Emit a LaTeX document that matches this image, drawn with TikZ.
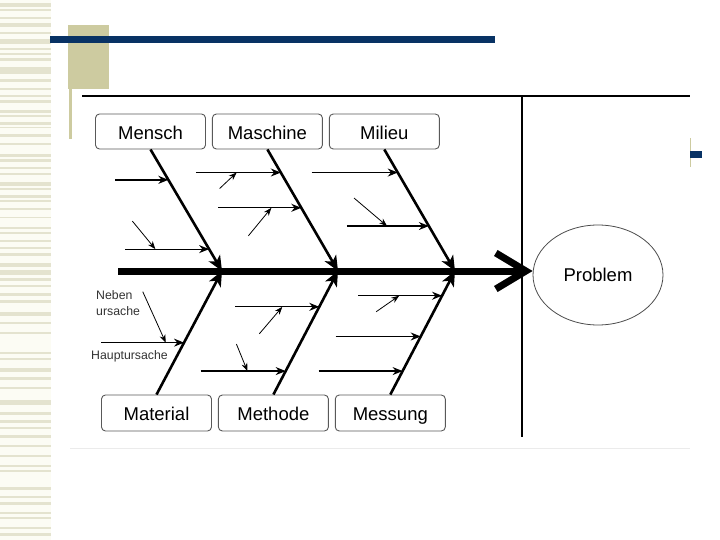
\documentclass[tikz,border=0pt]{standalone}
\usepackage{fontspec}
\setmainfont{Liberation Sans}
\usetikzlibrary{positioning,shapes.geometric,arrows.meta,calc}

\definecolor{navyA}{RGB}{8,50,100}
\definecolor{khakiA}{RGB}{205,203,160}
\definecolor{stripeA}{RGB}{228,227,207}
\definecolor{creamA}{RGB}{252,252,244}

\tikzset{
	catbox/.style={draw=black!65, line width=0.9pt, rounded corners=4pt, minimum width=110pt, minimum height=35pt, text height=18.5pt, text depth=3pt, font=\fontsize{18.5}{20}\selectfont},
	spine/.style={line width=7pt, -{Straight Barb[length=30pt,width=36pt]}},
	bone/.style={line width=2.6pt, -{Stealth[length=15pt,width=13pt,inset=4pt]}},
	cause/.style={line width=1.2pt, -{Stealth[length=10pt,width=8pt]}},
	subcause/.style={line width=0.8pt, -{Stealth[length=8pt,width=6pt]}},
	note/.style={font=\fontsize{12.3}{16}\selectfont, text=black!80, inner sep=0pt, anchor=west, align=left}
}

\begin{document}
\begin{tikzpicture}[x=1pt,y=-1pt]

	\useasboundingbox (0,0) rectangle (720,540);
	\fill[white] (0,0) rectangle (720,540);

	% slide background
	\fill[creamA] (0,0) rectangle (51,540);
	\foreach \y/\h in {3/4,9/2,17/2,23/4,32/2,39/5,48/2,53/2,58/3,67/7,79/3,88/2,95/2,100/3,110/3,115/2,122/3,127/1.5,134/3,143/2,154/3,159/3,167/2,173/2,182/4,188/2,195/3,200/2,208/2,217/1.5,227/2,232/1.5,240/2,247/2,253/3,263/4,270/5,278/3,285/2,293/3,300/3,312/4,322/1.5,332/1.5,352/2,358/2,368/4,377/3,387/2,400/5,412/3,420/3,427/2,435/3,445/2,455/1.5,465/2,470/2,487/3,496/2,502/3,512/2,517/2,527/2,533/3}
		\fill[stripeA] (0,\y) rectangle (51,\y+\h);

	\fill[khakiA] (68,25) rectangle (109,89);
	\fill[khakiA] (69,89) rectangle (72,139);
	\fill[navyA] (50,36) rectangle (495,43);
	\fill[khakiA] (689.5,138) rectangle (690.5,167);
	\fill[navyA] (690,151) rectangle (702,158);

	\draw[line width=2.5pt] (82,96) -- (690,96);
	\draw[line width=1.2pt] (522,96) -- (522,437);
	\draw[black!8, line width=1pt] (70,448) -- (690,448);

	% fishbone
	\node[ellipse, draw=black!70, line width=0.8pt, minimum width=130pt, minimum height=100pt, font=\fontsize{18.5}{20}\selectfont] (problem) at (598,275) {Problem};

	\coordinate (tail) at (118,271);
	\coordinate (j1) at (222,271);
	\coordinate (j2) at (338,271);
	\coordinate (j3) at (455,271);

	\draw[spine] (tail) -- (tail -| problem.west);

	\node[catbox] (mensch) at (150.5,131.5) {Mensch};
	\node[catbox, right=6pt of mensch] (maschine) {Maschine};
	\node[catbox, right=6pt of maschine] (milieu) {Milieu};

	\node[catbox, minimum height=36pt] (material) at (156.5,413) {Material};
	\node[catbox, minimum height=36pt, right=6pt of material] (methode) {Methode};
	\node[catbox, minimum height=36pt, right=6pt of methode] (messung) {Messung};

	\draw[bone] (mensch.south) -- coordinate[pos=0.25] (a1) coordinate[pos=0.82] (a2) (j1);
	\draw[cause, line width=2pt] ($(a1)+(-53,0)$) -- (a1);
	\draw[cause] ($(a2)+(-84,0)$) -- coordinate[pos=0.36] (s1) (a2);
	\draw[subcause] ($(s1)+(-23,-28)$) -- (s1);

	\draw[bone] (maschine.south) -- coordinate[pos=0.19] (b1) coordinate[pos=0.48] (b2) (j2);
	\draw[cause] ($(b1)+(-85,0)$) -- coordinate[pos=0.48] (s2) (b1);
	\draw[subcause] ($(s2)+(-17,16)$) -- (s2);
	\draw[cause] ($(b2)+(-83,0)$) -- coordinate[pos=0.64] (s3) (b2);
	\draw[subcause] ($(s3)+(-23,28)$) -- (s3);

	\draw[bone] (milieu.south) -- coordinate[pos=0.19] (c1) coordinate[pos=0.63] (c2) (j3);
	\draw[cause] ($(c1)+(-86,0)$) -- (c1);
	\draw[cause] ($(c2)+(-82,0)$) -- coordinate[pos=0.49] (s4) (c2);
	\draw[subcause] ($(s4)+(-33,-28)$) -- (s4);

	\draw[bone] (material.north) -- coordinate[pos=0.42] (d1) (j1);
	\draw[cause] ($(d1)+(-83,0)$) -- coordinate[pos=0.78] (s5) (d1);
	\draw[subcause] ($(s5)+(-23,-51)$) -- (s5);

	\draw[bone] (methode.north) -- coordinate[pos=0.19] (e1) coordinate[pos=0.71] (e2) (j2);
	\draw[cause] ($(e1)+(-85,0)$) -- coordinate[pos=0.55] (s6) (e1);
	\draw[subcause] ($(s6)+(-11,-27)$) -- (s6);
	\draw[cause] ($(e2)+(-84,0)$) -- coordinate[pos=0.56] (s7) (e2);
	\draw[subcause] ($(s7)+(-23,27)$) -- (s7);

	\draw[bone] (messung.north) -- coordinate[pos=0.19] (f1) coordinate[pos=0.47] (f2) coordinate[pos=0.80] (f3) (j3);
	\draw[cause] ($(f1)+(-84,0)$) -- (f1);
	\draw[cause] ($(f2)+(-85,0)$) -- (f2);
	\draw[cause] ($(f3)+(-84,0)$) -- coordinate[pos=0.49] (s8) (f3);
	\draw[subcause] ($(s8)+(-23,16)$) -- (s8);

	\node[note] (neben) at (96,303) {Neben\\ursache};
	\node[note] (haupt) at (91,356) {Hauptursache};

\end{tikzpicture}
\end{document}
